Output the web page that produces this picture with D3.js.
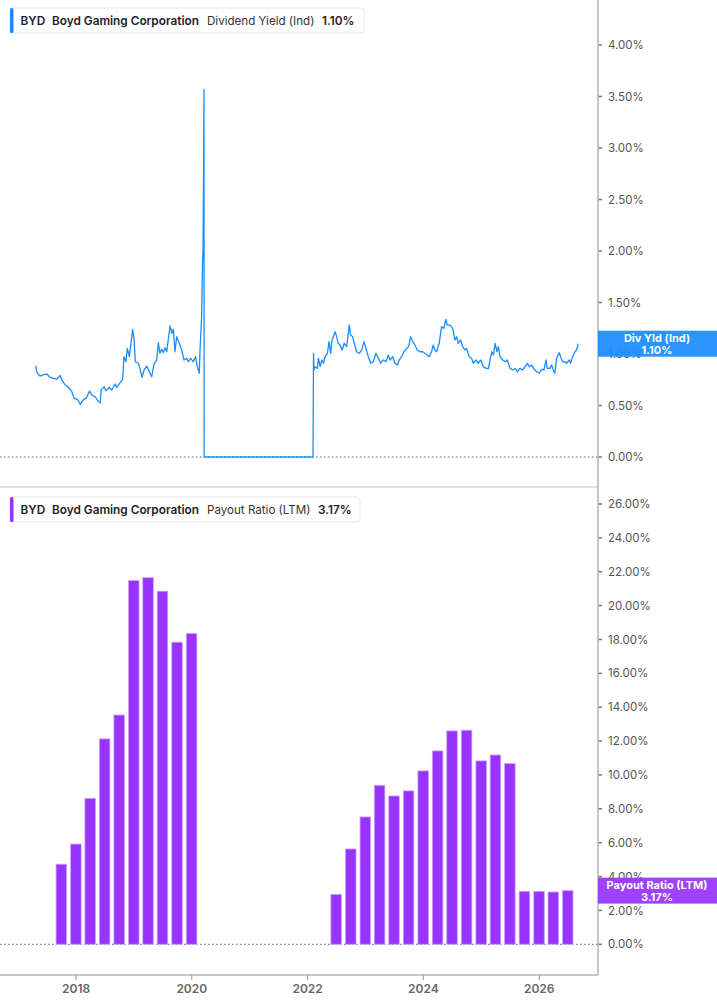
<!DOCTYPE html>
<html lang="en">
<head>
  <meta charset="UTF-8">
  <title>BYD Dividend Yield and Payout Ratio</title>
  <style>
    body { margin: 0; background: #fff; }
    svg { display: block; font-family: Inter, "Noto Sans", sans-serif; }
    .tick-label { font-size: 11.5px; fill: #555; }
    .x-label { font-size: 12px; font-weight: 600; fill: #666; }
    .legend-bold { font-size: 11.8px; font-weight: 600; fill: #222; }
    .legend-reg { font-size: 11.6px; fill: #333; }
    .tag { font-size: 11px; font-weight: 700; fill: #fff; }
  </style>
</head>
<body>
  <svg id="chart" width="717" height="1005"></svg>

  <script src="https://d3js.org/d3.v7.min.js"></script>
  <script>
    // Dividend yield (Ind)
    const yieldDates = [
      '2017-04-23','2017-04-28','2017-05-19','2017-06-09','2017-06-30','2017-07-21','2017-08-11','2017-09-02',
      '2017-09-22','2017-10-03','2017-10-24','2017-11-13','2017-12-05','2017-12-20','2018-01-10','2018-01-27',
      '2018-02-17','2018-03-06','2018-03-27','2018-04-11','2018-05-02','2018-05-22','2018-06-02','2018-06-08',
      '2018-06-27','2018-07-09','2018-07-30','2018-08-14','2018-09-04','2018-09-14','2018-10-05','2018-10-22',
      '2018-10-30','2018-11-12','2018-11-20','2018-12-03','2018-12-11','2018-12-24','2019-01-02','2019-01-10',
      '2019-01-29','2019-02-08','2019-02-21','2019-03-06','2019-03-23','2019-04-08','2019-04-23','2019-05-08',
      '2019-05-25','2019-06-04','2019-06-14','2019-06-25','2019-07-05','2019-07-16','2019-07-27','2019-08-06',
      '2019-08-17','2019-08-28','2019-09-07','2019-09-17','2019-09-28','2019-10-14','2019-10-29','2019-11-13',
      '2019-11-30','2019-12-10','2019-12-25','2020-01-10','2020-01-25','2020-02-05','2020-02-17','2020-02-22',
      '2020-03-03','2020-03-09','2020-03-12','2020-03-16','2020-03-18','2020-03-19','2022-02-04','2022-02-07',
      '2022-02-10','2022-02-17','2022-03-03','2022-03-10','2022-03-21','2022-03-31','2022-04-11','2022-04-21',
      '2022-05-06','2022-05-16','2022-05-27','2022-06-02','2022-06-12','2022-06-23','2022-07-03','2022-07-13',
      '2022-07-24','2022-08-07','2022-08-20','2022-09-04','2022-09-21','2022-09-29','2022-10-12','2022-10-22',
      '2022-11-06','2022-11-23','2022-12-08','2022-12-22','2023-01-04','2023-01-19','2023-02-03','2023-02-19',
      '2023-03-08','2023-03-23','2023-04-07','2023-04-23','2023-05-10','2023-05-25','2023-06-05','2023-06-22',
      '2023-07-06','2023-07-21','2023-08-02','2023-08-17','2023-09-01','2023-09-18','2023-09-30','2023-10-13',
      '2023-10-26','2023-11-09','2023-11-23','2023-12-10','2023-12-27','2024-01-11','2024-01-25','2024-02-07',
      '2024-02-22','2024-03-03','2024-03-14','2024-03-24','2024-04-10','2024-04-25','2024-05-10','2024-05-22',
      '2024-05-31','2024-06-17','2024-07-04','2024-07-18','2024-07-29','2024-08-08','2024-08-23','2024-09-05',
      '2024-09-19','2024-09-30','2024-10-16','2024-11-01','2024-11-11','2024-11-28','2024-12-12','2024-12-28',
      '2025-01-14','2025-01-31','2025-02-15','2025-02-25','2025-03-08','2025-03-18','2025-03-29','2025-04-09',
      '2025-04-18','2025-04-29','2025-05-16','2025-05-31','2025-06-14','2025-07-01','2025-07-18','2025-08-02',
      '2025-08-16','2025-09-02','2025-09-19','2025-10-04','2025-10-18','2025-10-31','2025-11-15','2025-11-30',
      '2025-12-17','2026-01-02','2026-01-17','2026-01-31','2026-02-13','2026-02-21','2026-03-10','2026-03-20',
      '2026-04-04','2026-04-10','2026-04-21','2026-05-07','2026-05-16','2026-05-29','2026-06-12','2026-06-23',
      '2026-07-09','2026-07-18','2026-07-31','2026-08-14','2026-08-25','2026-09-04'
    ];
    const yieldValues = [
      0.886,0.82,0.786,0.80,0.805,0.774,0.764,0.757,
      0.793,0.748,0.70,0.677,0.634,0.57,0.56,0.51,
      0.56,0.57,0.64,0.60,0.585,0.537,0.527,0.65,
      0.683,0.644,0.677,0.65,0.709,0.677,0.72,0.754,
      0.974,0.925,1.055,0.974,1.07,1.24,1.136,0.925,
      0.91,0.86,0.774,0.845,0.883,0.828,0.78,0.903,
      0.942,1.11,1.007,1.046,1.013,1.061,1.022,1.143,
      1.272,1.20,1.24,1.022,1.168,1.104,1.039,0.942,
      0.958,0.925,0.958,0.925,0.974,0.877,0.813,1.039,
      1.36,1.9,2.0,2.9,3.57,0,0,1.007,
      0.845,0.877,0.86,0.958,0.877,0.942,0.91,0.974,
      1.007,1.12,1.007,1.12,1.168,1.217,1.168,1.104,
      1.087,1.039,1.104,1.071,1.28,1.184,1.168,1.104,
      1.022,1.007,1.039,1.12,1.055,0.974,0.91,0.925,
      1.007,0.958,0.91,0.942,0.925,0.99,0.942,0.974,
      0.91,0.893,0.942,0.974,1.022,1.055,1.071,1.168,
      1.12,1.087,1.039,1.022,1.022,1.007,0.99,0.974,
      1.022,1.087,1.039,1.022,1.104,1.265,1.249,1.337,
      1.28,1.28,1.249,1.136,1.168,1.104,1.136,1.071,
      1.039,1.055,0.974,0.958,0.91,0.942,0.91,0.942,
      0.877,0.86,0.86,0.942,1.022,0.99,1.104,1.022,
      1.071,0.974,0.942,0.925,0.942,0.86,0.845,0.86,
      0.828,0.86,0.845,0.877,0.91,0.877,0.893,0.851,
      0.828,0.813,0.851,0.845,0.942,0.86,0.86,0.893,
      0.828,0.813,0.958,1.013,0.974,0.925,0.925,0.91,
      0.942,0.91,0.974,1.022,1.039,1.10
    ];

    // Payout ratio (LTM), quarterly
    const payoutQuarters = [
      '2017-09-30','2017-12-31','2018-03-31','2018-06-30','2018-09-30','2018-12-31','2019-03-31','2019-06-30',
      '2019-09-30','2019-12-31',
      '2022-06-30','2022-09-30','2022-12-31','2023-03-31','2023-06-30','2023-09-30','2023-12-31','2024-03-31',
      '2024-06-30','2024-09-30','2024-12-31','2025-03-31','2025-06-30','2025-09-30','2025-12-31','2026-03-31',
      '2026-06-30'
    ];
    const payoutValues = [
      4.73,5.92,8.62,12.13,13.54,21.48,21.65,20.85,17.84,18.35,
      2.95,5.63,7.52,9.39,8.76,9.06,10.24,11.42,12.6,12.64,10.83,11.18,10.67,3.13,3.13,3.09,3.17
    ];

    const yieldTicks = [0, 0.5, 1, 1.5, 2, 2.5, 3, 3.5, 4];
    const payoutTicks = [0, 2, 4, 6, 8, 10, 12, 14, 16, 18, 20, 22, 24, 26];
    const xTickYears = [2018, 2020, 2022, 2024, 2026];

    const parse = d3.timeParse('%Y-%m-%d');
    const yieldData = yieldDates.map((d, i) => ({ date: parse(d), value: yieldValues[i] }));
    const payoutData = payoutQuarters.map((d, i) => ({ date: parse(d), value: payoutValues[i] }));

    const plotRight = 598;
    const blue = '#1a8cff';
    const purple = '#9933ff';

    const svg = d3.select('#chart');

    const x = d3.scaleTime()
      .domain([parse('2016-09-08'), parse('2027-01-07')])
      .range([0, plotRight]);

    const yTop = d3.scaleLinear().domain([0, 4]).range([457, 45]);
    const yBot = d3.scaleLinear().domain([0, 26]).range([944.3, 504]);

    const pct = d3.format('.2f');

    // panel separator
    svg.append('line')
      .attr('x1', 0).attr('x2', plotRight).attr('y1', 487).attr('y2', 487)
      .attr('stroke', '#e0e0e0').attr('stroke-width', 2);

    // zero lines
    [yTop, yBot].forEach(s => {
      svg.append('line')
        .attr('x1', 0).attr('x2', plotRight).attr('y1', s(0)).attr('y2', s(0))
        .attr('stroke', '#666').attr('stroke-width', 1).attr('stroke-dasharray', '1.5,2.5');
    });

    // bars
    const step = x(parse('2018-04-01')) - x(parse('2018-01-01'));
    const barW = step * 0.74;
    svg.selectAll('.bar')
      .data(payoutData)
      .enter().append('rect')
      .attr('class', 'bar')
      .attr('x', d => x(d.date) - barW / 2)
      .attr('y', d => yBot(d.value))
      .attr('width', barW)
      .attr('height', d => yBot(0) - yBot(d.value))
      .attr('fill', purple)
      .attr('stroke', '#c9a3ff')
      .attr('stroke-width', 0.8);

    // yield line
    const line = d3.line().x(d => x(d.date)).y(d => yTop(d.value));
    svg.append('path')
      .datum(yieldData)
      .attr('d', line)
      .attr('fill', 'none')
      .attr('stroke', blue)
      .attr('stroke-width', 1.3)
      .attr('stroke-linejoin', 'round');

    // right axes
    function rightAxis(scale, ticks) {
      const g = svg.append('g');
      ticks.forEach(t => {
        g.append('line')
          .attr('x1', plotRight).attr('x2', plotRight + 4)
          .attr('y1', scale(t)).attr('y2', scale(t))
          .attr('stroke', '#777').attr('stroke-width', 1.5);
        g.append('text')
          .attr('class', 'tick-label')
          .attr('x', 608).attr('y', scale(t)).attr('dy', '0.36em')
          .text(pct(t) + '%');
      });
    }
    rightAxis(yTop, yieldTicks);
    rightAxis(yBot, payoutTicks);

    // frame lines
    svg.append('line')
      .attr('x1', plotRight).attr('x2', plotRight).attr('y1', 0).attr('y2', 975)
      .attr('stroke', '#b3b3b3').attr('stroke-width', 1.5);
    svg.append('line')
      .attr('x1', 0).attr('x2', plotRight).attr('y1', 975).attr('y2', 975)
      .attr('stroke', '#b3b3b3').attr('stroke-width', 1.5);

    // x axis
    const xAxis = svg.append('g');
    xTickYears.forEach(yr => {
      const px = x(new Date(yr, 0, 1));
      xAxis.append('line')
        .attr('x1', px).attr('x2', px).attr('y1', 975).attr('y2', 980)
        .attr('stroke', '#999').attr('stroke-width', 1);
      xAxis.append('text')
        .attr('class', 'x-label')
        .attr('x', px).attr('y', 989).attr('dy', '0.36em')
        .attr('text-anchor', 'middle')
        .text(yr);
    });

    // right-side value tags
    function tag(scale, value, color, label) {
      const cy = scale(value);
      svg.append('rect')
        .attr('x', plotRight).attr('y', cy - 13)
        .attr('width', 717 - plotRight).attr('height', 26)
        .attr('fill', color).attr('fill-opacity', 0.93);
      svg.append('text').attr('class', 'tag')
        .attr('x', 657).attr('y', cy - 6).attr('dy', '0.36em')
        .attr('text-anchor', 'middle').text(label);
      svg.append('text').attr('class', 'tag')
        .attr('x', 657).attr('y', cy + 6).attr('dy', '0.36em')
        .attr('text-anchor', 'middle').text(pct(value) + '%');
    }
    tag(yTop, yieldValues[yieldValues.length - 1], blue, 'Div Yld (Ind)');
    tag(yBot, payoutValues[payoutValues.length - 1], purple, 'Payout Ratio (LTM)');

    // legends
    function legend(top, color, metric, value, valueX, width) {
      const g = svg.append('g');
      g.append('rect')
        .attr('x', 10).attr('y', top).attr('width', width).attr('height', 25)
        .attr('rx', 3).attr('fill', '#fff').attr('stroke', '#e8e8e8');
      g.append('rect')
        .attr('x', 10).attr('y', top).attr('width', 3.5).attr('height', 25)
        .attr('rx', 1.5).attr('fill', color);
      const by = top + 12.5;
      g.append('text').attr('class', 'legend-bold').attr('x', 20.5).attr('y', by).attr('dy', '0.36em').text('BYD');
      g.append('text').attr('class', 'legend-bold').attr('x', 52).attr('y', by).attr('dy', '0.36em').text('Boyd Gaming Corporation');
      g.append('text').attr('class', 'legend-reg').attr('x', 207).attr('y', by).attr('dy', '0.36em').text(metric);
      g.append('text').attr('class', 'legend-bold').attr('x', valueX).attr('y', by).attr('dy', '0.36em').text(value);
    }
    legend(8, blue, 'Dividend Yield (Ind)', '1.10%', 322, 354);
    legend(497, purple, 'Payout Ratio (LTM)', '3.17%', 318, 350);
  </script>
</body>
</html>
